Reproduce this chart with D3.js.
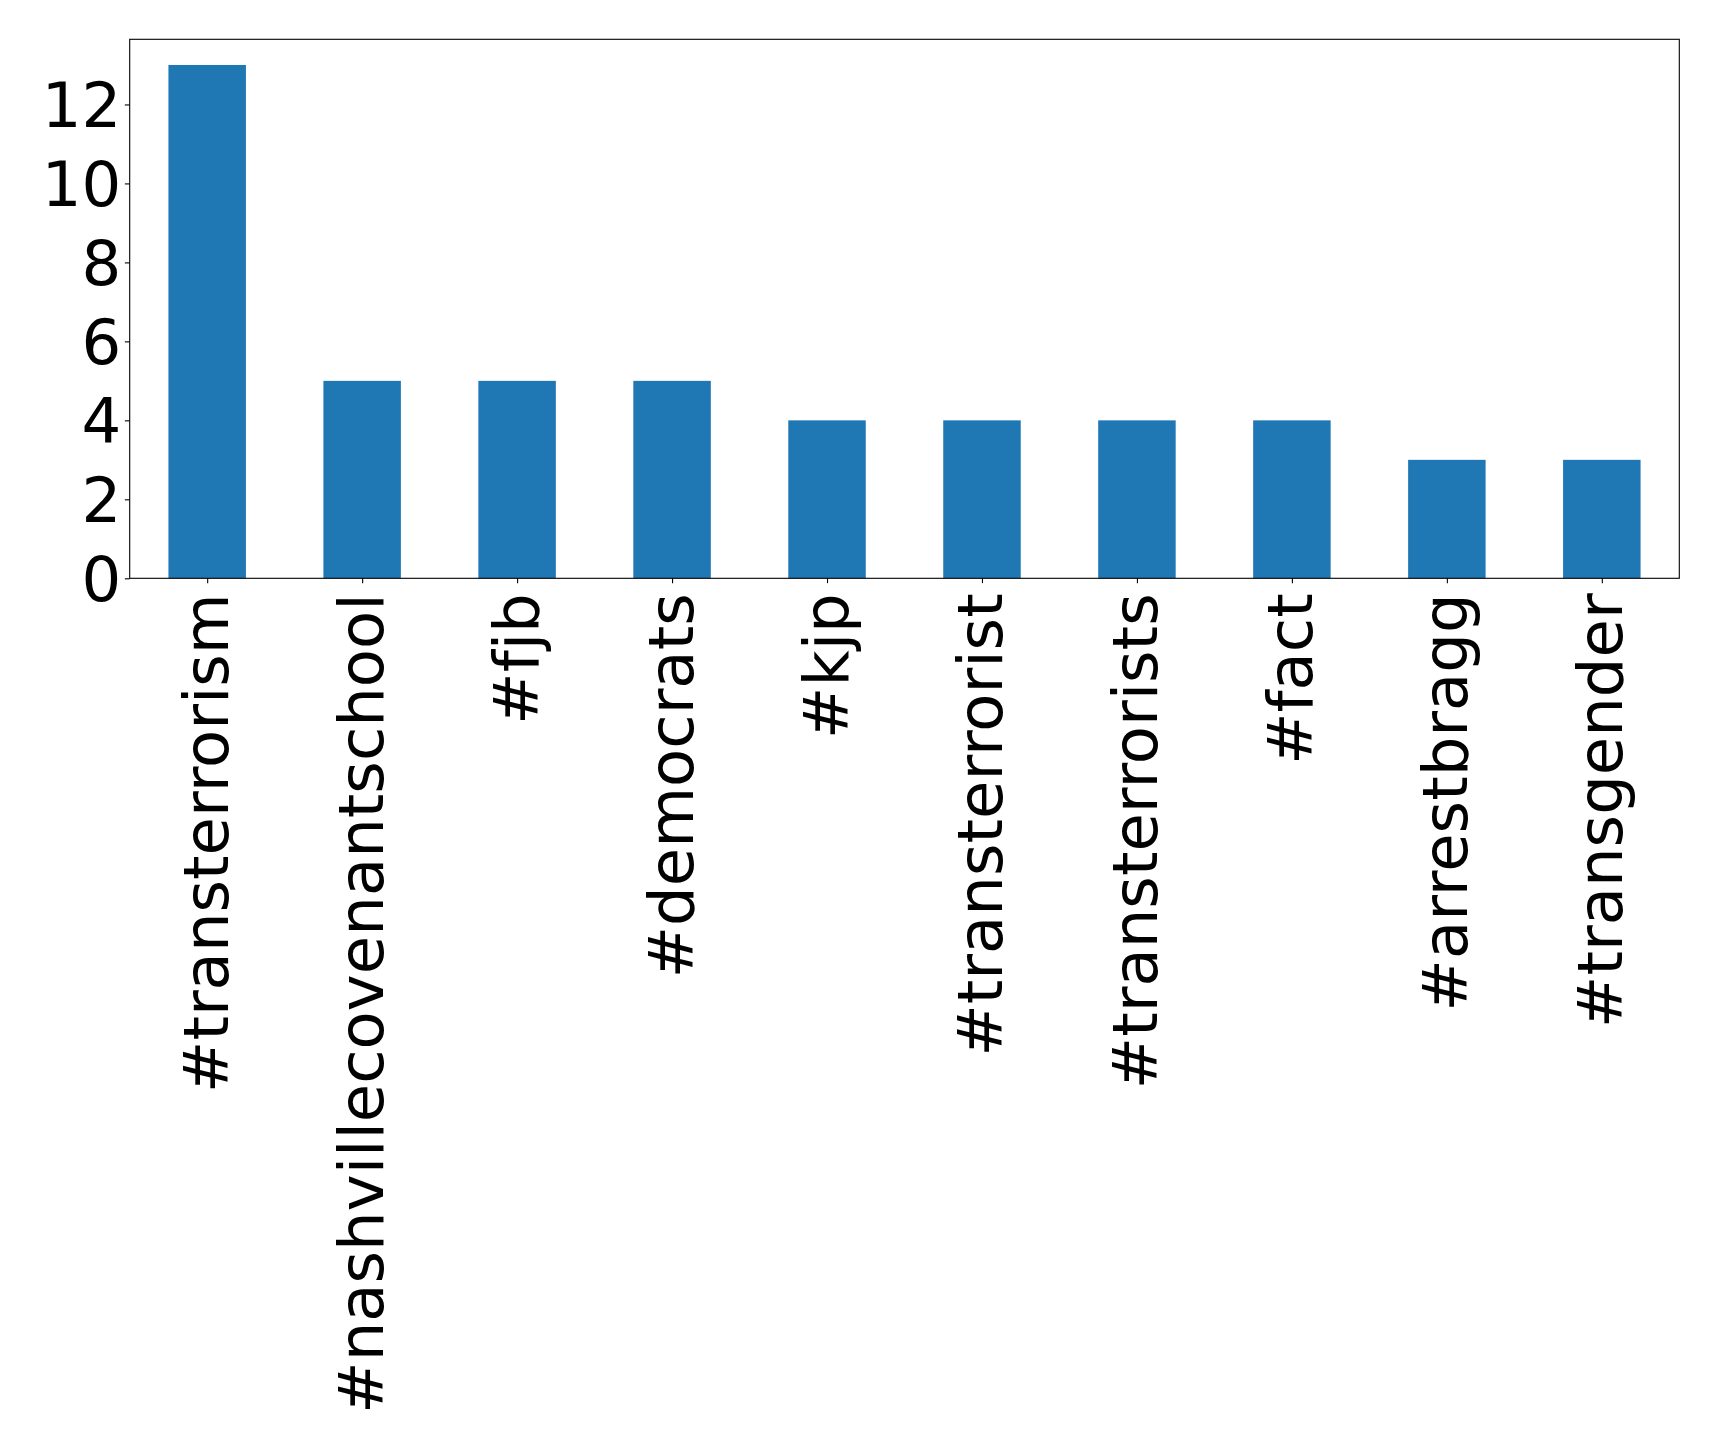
<!DOCTYPE html>
<html><head><meta charset="utf-8">
<script src="https://cdn.jsdelivr.net/npm/d3@7"></script>
<style>body{margin:0;background:#fff}svg{display:block}</style>
</head><body>
<script>
const categories = ["#transterrorism","#nashvillecovenantschool","#fjb","#democrats","#kjp","#transterrorist","#transterrorists","#fact","#arrestbragg","#transgender"];
const values = [13,5,5,5,4,4,4,4,3,3];
const yTicks = [0,2,4,6,8,10,12];

const W = 1719, H = 1448;
const m = {left:129.7, right:1679.3, top:39.3, bottom:578.3};
const svg = d3.select("body").append("svg").attr("width",W).attr("height",H);

const x = d3.scaleLinear().domain([-0.5, categories.length-0.5]).range([m.left, m.right]);
const y = d3.scaleLinear().domain([0, 13*1.05]).range([m.bottom, m.top]);

svg.append("g").selectAll("rect").data(values).join("rect")
  .attr("x",(d,i)=>x(i-0.25)).attr("width",(d,i)=>x(i+0.25)-x(i-0.25))
  .attr("y",d=>y(d)).attr("height",d=>y(0)-y(d)).attr("fill","#1f77b4");

const font = "'DejaVu Sans', sans-serif";
const fs = "62.5px";
const yAxis = d3.axisLeft(y).tickValues(yTicks).tickSize(4.86).tickPadding(3.5).tickFormat(d3.format("d"));
const gy = svg.append("g").attr("transform",`translate(${m.left},0)`).call(yAxis);
gy.select(".domain").remove();
gy.selectAll("line").attr("stroke","#000").attr("stroke-width",1.1);
gy.selectAll("text").attr("font-family",font).attr("font-size",fs).attr("fill","#000").attr("dy","0.36em");

const xAxis = d3.axisBottom(x).tickValues(d3.range(categories.length)).tickSize(4.86).tickPadding(0).tickFormat(i=>categories[i]);
const gx = svg.append("g").attr("transform",`translate(0,${m.bottom})`).call(xAxis);
gx.select(".domain").remove();
gx.selectAll("line").attr("stroke","#000").attr("stroke-width",1.1);
gx.selectAll("text").attr("font-family",font).attr("font-size",fs).attr("fill","#000")
  .attr("text-anchor","end").attr("transform","translate(0,15) rotate(-90)")
  .attr("x",0).attr("y",0).attr("dy","0.32em");

svg.append("rect").attr("x",m.left).attr("y",m.top).attr("width",m.right-m.left).attr("height",m.bottom-m.top)
  .attr("fill","none").attr("stroke","#000").attr("stroke-width",1.1);
</script>
</body></html>
